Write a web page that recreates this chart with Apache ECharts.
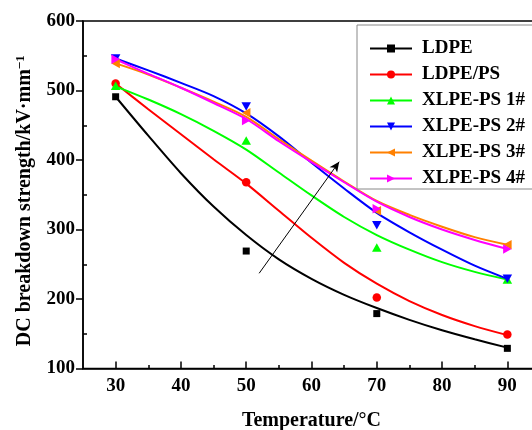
<!DOCTYPE html>
<html>
<head>
<meta charset="utf-8">
<script src="https://cdn.jsdelivr.net/npm/echarts@6/dist/echarts.min.js"></script>
<style>
  html, body { margin: 0; padding: 0; background: #ffffff; }
  #chart { width: 532px; height: 430px; }
</style>
</head>
<body>
<div id="chart"></div>
<script>
// DC breakdown strength of LDPE-based insulation vs temperature

const seriesNames = ['LDPE', 'LDPE/PS', 'XLPE-PS 1#', 'XLPE-PS 2#', 'XLPE-PS 3#', 'XLPE-PS 4#'];

// measured points (kV/mm)
const measuredTemps = [30, 50, 70, 90];
const ldpe      = [491, 269, 179, 129];
const ldpePs    = [510, 368, 202, 149];
const xlpePs1   = [507, 428, 274, 228];
const xlpePs2   = [546, 477, 306, 229];
const xlpePs3   = [539, 468, 327, 278];
const xlpePs4   = [545, 457, 330, 272];

// fitted trend curves (kV/mm)
const fitTemps   = [30, 35, 40, 45, 50, 55, 60, 65, 70, 75, 80, 85, 90];
const ldpeFit    = [491, 435, 381, 333, 292, 257, 229, 206, 187, 170, 155, 142, 130];
const ldpePsFit  = [510, 473, 437, 401, 366, 327, 288, 252, 222, 197, 177, 161, 148];
const xlpePs1Fit = [506, 487, 466, 442, 415, 382, 349, 318, 292, 271, 253, 239, 228];
const xlpePs2Fit = [546, 529, 511, 492, 467, 434, 396, 359, 324, 296, 271, 248, 229];
const xlpePs3Fit = [539, 523, 504, 484, 462, 430, 399, 369, 341, 321, 304, 289, 278];
const xlpePs4Fit = [545, 524, 504, 482, 459, 427, 397, 368, 340, 318, 300, 285, 272];

// axis ticks
const xLabels     = [30, 40, 50, 60, 70, 80, 90];
const xMinorTicks = [35, 45, 55, 65, 75, 85];
const yMinorTicks = [150, 250, 350, 450, 550];

// trend arrow (temperature, kV/mm)
const arrowFrom = [51.98, 237];
const arrowTo   = [64.24, 397.5];

const measured = [ldpe, ldpePs, xlpePs1, xlpePs2, xlpePs3, xlpePs4];
const fitted   = [ldpeFit, ldpePsFit, xlpePs1Fit, xlpePs2Fit, xlpePs3Fit, xlpePs4Fit];

const colors    = ['#000000', '#ff0000', '#00ff00', '#0000ff', '#ff8000', '#ff00ff'];
const symbols   = ['rect', 'circle', 'triangle', 'triangle', 'triangle', 'triangle'];
const rotations = [0, 0, 0, 180, 90, -90];
const sizes     = [7, 8.5, [9.5, 8.5], [9.5, 8.5], [9.5, 8.5], [9.5, 8.5]];

const FONT = '"Liberation Serif", "Times New Roman", serif';
const txt = (size) => ({ fontFamily: FONT, fontWeight: 'bold', fontSize: size, color: '#000' });

const lineSeries = seriesNames.map((name, i) => {
  const s = {
    name,
    type: 'line',
    data: fitTemps.map((t, k) => [t, fitted[i][k]]),
    smooth: 0.3,
    showSymbol: false,
    symbol: symbols[i],
    symbolRotate: rotations[i],
    symbolSize: sizes[i],
    itemStyle: { color: colors[i] },
    lineStyle: { color: colors[i], width: 2 },
    z: 2
  };
  if (i === 0) {
    s.markLine = {
      silent: true,
      symbol: ['none', 'arrow'],
      symbolSize: [7, 10],
      label: { show: false },
      lineStyle: { color: '#000', width: 1, type: 'solid' },
      data: [[{ coord: arrowFrom }, { coord: arrowTo }]]
    };
  }
  return s;
});

const pointSeries = seriesNames.map((name, i) => ({
  name,
  type: 'scatter',
  data: measuredTemps.map((t, k) => [t, measured[i][k]]),
  symbol: symbols[i],
  symbolRotate: rotations[i],
  symbolSize: sizes[i],
  itemStyle: { color: colors[i], opacity: 1 },
  z: 3
}));

const chart = echarts.init(document.getElementById('chart'), null, { renderer: 'canvas' });

chart.setOption({
  animation: false,
  backgroundColor: '#ffffff',
  grid: {
    left: 83, top: 21, width: 457, height: 347.5,
    outerBoundsMode: 'none',
    show: true, borderColor: '#000', borderWidth: 1.5, backgroundColor: 'transparent'
  },
  legend: {
    orient: 'vertical',
    left: 357, top: 25,
    data: seriesNames,
    itemWidth: 42, itemHeight: 10, itemGap: 7,
    borderColor: '#888', borderWidth: 1,
    padding: [14, 80, 1, 12],
    textStyle: Object.assign(txt(19), { lineHeight: 18, padding: [0, 0, 0, 5] })
  },
  xAxis: [
    {
      type: 'value', min: 25, max: 95, interval: 5,
      name: 'Temperature/°C', nameLocation: 'middle', nameGap: 42,
      nameTextStyle: txt(20),
      axisLine: { show: true, lineStyle: { color: '#000', width: 1.5 } },
      axisTick: { show: true, inside: true, length: 7, customValues: xLabels, lineStyle: { color: '#000', width: 1.5 } },
      axisLabel: Object.assign(txt(19), { margin: 8, customValues: xLabels }),
      splitLine: { show: false }
    },
    {
      type: 'value', min: 25, max: 95, interval: 5, position: 'bottom',
      axisLine: { show: false },
      axisTick: { show: true, inside: true, length: 3.5, customValues: xMinorTicks, lineStyle: { color: '#000', width: 1.5 } },
      axisLabel: { show: false },
      splitLine: { show: false }
    }
  ],
  yAxis: [
    {
      type: 'value', min: 100, max: 600, interval: 100,
      name: 'DC breakdown strength/kV·mm{sup|−1}', nameLocation: 'middle', nameGap: 48,
      nameTextStyle: Object.assign(txt(20), {
        lineHeight: 21,
        padding: [0, 12, 0, 0],
        rich: { sup: Object.assign(txt(13), { lineHeight: 13, verticalAlign: 'top' }) }
      }),
      axisLine: { show: true, lineStyle: { color: '#000', width: 1.5 } },
      axisTick: { show: true, inside: false, length: 7, lineStyle: { color: '#000', width: 1.5 } },
      axisLabel: Object.assign(txt(19), { margin: 8 }),
      splitLine: { show: false }
    },
    {
      type: 'value', min: 100, max: 600, interval: 100, position: 'left',
      axisLine: { show: false },
      axisTick: { show: true, inside: true, length: 4, customValues: yMinorTicks, lineStyle: { color: '#000', width: 1.5 } },
      axisLabel: { show: false },
      splitLine: { show: false }
    }
  ],
  series: lineSeries.concat(pointSeries)
});
</script>
</body>
</html>
